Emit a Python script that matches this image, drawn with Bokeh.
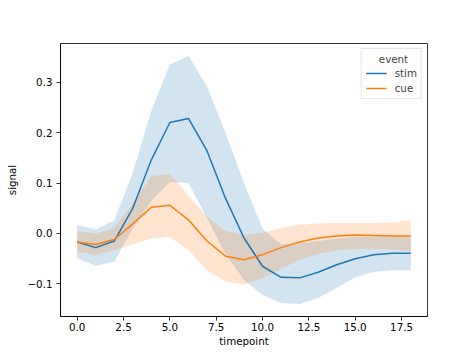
from bokeh.plotting import figure
from bokeh.models import Range1d, FixedTicker, Legend, LegendItem, ColumnDataSource
from bokeh.embed import file_html
from bokeh.resources import INLINE

# ---- data ----
timepoint = list(range(19))
stim_mean = [-0.017, -0.028, -0.015, 0.050, 0.146, 0.220, 0.228, 0.164, 0.070, -0.009,
             -0.065, -0.087, -0.088, -0.077, -0.062, -0.050, -0.042, -0.039, -0.039]
stim_upper = [0.017, 0.008, 0.026, 0.120, 0.244, 0.335, 0.352, 0.292, 0.200, 0.100,
              0.010, -0.022, -0.020, -0.015, -0.010, -0.007, -0.006, -0.006, -0.007]
stim_lower = [-0.049, -0.064, -0.056, 0.010, 0.065, 0.102, 0.100, 0.031, -0.040, -0.092,
              -0.122, -0.138, -0.140, -0.128, -0.108, -0.087, -0.076, -0.073, -0.073]
cue_mean = [-0.017, -0.022, -0.012, 0.019, 0.052, 0.056, 0.027, -0.015, -0.045, -0.052,
            -0.042, -0.028, -0.017, -0.009, -0.005, -0.003, -0.004, -0.005, -0.005]
cue_upper = [0.005, 0.000, 0.011, 0.060, 0.114, 0.118, 0.075, 0.034, 0.005, -0.003,
             0.001, 0.011, 0.018, 0.020, 0.021, 0.021, 0.021, 0.022, 0.026]
cue_lower = [-0.036, -0.042, -0.033, -0.022, -0.010, -0.007, -0.033, -0.073, -0.095, -0.101,
             -0.088, -0.070, -0.052, -0.040, -0.034, -0.031, -0.030, -0.032, -0.035]

x_ticks = [0.0, 2.5, 5.0, 7.5, 10.0, 12.5, 15.0, 17.5]
x_tick_labels = ["0.0", "2.5", "5.0", "7.5", "10.0", "12.5", "15.0", "17.5"]
y_ticks = [-0.1, 0.0, 0.1, 0.2, 0.3]
y_tick_labels = ["\u22120.1", "0.0", "0.1", "0.2", "0.3"]

series_names = ["stim", "cue"]
legend_title = "event"
colors = ["#1f77b4", "#ff7f0e"]

FONT = "DejaVu Sans"

# ranges with 5% margins like matplotlib
xmin, xmax = min(timepoint), max(timepoint)
xm = (xmax - xmin) * 0.05
all_lo = min(stim_lower + cue_lower)
all_hi = max(stim_upper + cue_upper)
ym = (all_hi - all_lo) * 0.05

p = figure(frame_width=367, frame_height=273,
           min_border_left=60, min_border_right=40, min_border_top=43, min_border_bottom=36,
           x_range=Range1d(xmin - xm, xmax + xm), y_range=Range1d(all_lo - ym, all_hi + ym),
           output_backend="svg", toolbar_location=None, background_fill_color="white",
           border_fill_color="white")

p.xgrid.visible = False
p.ygrid.visible = False
p.outline_line_color = "black"
p.outline_line_width = 0.8
p.outline_line_alpha = 1.0

src = ColumnDataSource(dict(t=timepoint, sm=stim_mean, su=stim_upper, sl=stim_lower,
                            cm=cue_mean, cu=cue_upper, cl=cue_lower))

p.varea(x="t", y1="sl", y2="su", source=src, fill_color=colors[0], fill_alpha=0.2)
p.varea(x="t", y1="cl", y2="cu", source=src, fill_color=colors[1], fill_alpha=0.2)
r_stim = p.line(x="t", y="sm", source=src, line_color=colors[0], line_width=1.5)
r_cue = p.line(x="t", y="cm", source=src, line_color=colors[1], line_width=1.5)

for ax in (p.xaxis[0], p.yaxis[0]):
    ax.axis_line_color = "black"
    ax.axis_line_width = 0.8
    ax.major_tick_line_color = "black"
    ax.major_tick_line_width = 0.8
    ax.major_tick_out = 4
    ax.major_tick_in = 0
    ax.minor_tick_line_color = None
    ax.major_label_text_font = FONT
    ax.major_label_text_font_size = "10.3px"
    ax.major_label_text_color = "black"
    ax.axis_label_text_font = FONT
    ax.axis_label_text_font_size = "10.3px"
    ax.axis_label_text_font_style = "normal"
    ax.axis_label_text_color = "black"

p.xaxis.ticker = FixedTicker(ticks=x_ticks)
p.xaxis.major_label_overrides = dict(zip(x_ticks, x_tick_labels))
p.yaxis.ticker = FixedTicker(ticks=y_ticks)
p.yaxis.major_label_overrides = dict(zip(y_ticks, y_tick_labels))
p.xaxis.axis_label = "timepoint"
p.yaxis.axis_label = "signal"
p.xaxis.major_label_standoff = 2
p.xaxis.axis_label_standoff = 1
p.yaxis.major_label_standoff = 4
p.yaxis.axis_label_standoff = 6

legend = Legend(items=[LegendItem(label=series_names[0], renderers=[r_stim]),
                       LegendItem(label=series_names[1], renderers=[r_cue])],
                location="top_right", title="\u00a0\u00a0\u00a0\u00a0" + legend_title)
legend.title_text_font = FONT
legend.title_text_font_size = "10.3px"
legend.title_text_font_style = "normal"
legend.title_standoff = 2
legend.label_text_font = FONT
legend.label_text_font_size = "10.3px"
legend.label_height = 12
legend.glyph_height = 12
legend.glyph_width = 21
legend.label_standoff = 8
legend.spacing = 3
legend.padding = 4
legend.margin = 5
legend.border_line_color = "#cccccc"
legend.border_line_width = 1
legend.background_fill_alpha = 0.8
p.add_layout(legend)

open("out.html", "w").write(file_html(p, INLINE))
